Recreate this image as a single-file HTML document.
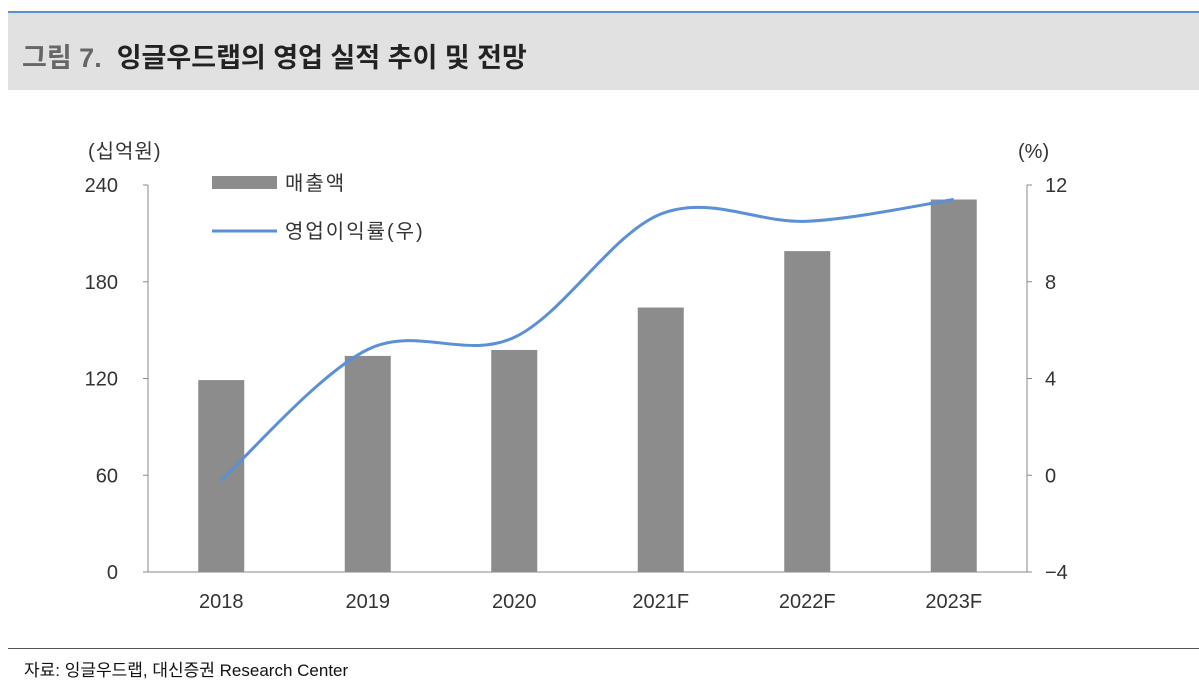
<!DOCTYPE html>
<html><head><meta charset="utf-8"><style>
body{margin:0;width:1199px;height:689px;background:#fff;font-family:"Liberation Sans","Noto Sans CJK KR",sans-serif;overflow:hidden;position:relative}
.hdr{position:absolute;left:8px;top:11px;width:1191px;height:77px;background:#e1e1e1;border-top:2px solid #5b8fd6}
.hdr span{position:absolute;left:14px;top:23px;font-size:27px;font-weight:bold;color:#222}
.src{position:absolute;left:24px;top:656px;font-size:17px;color:#111}
.foot{position:absolute;left:8px;top:648px;width:1191px;border-top:1px solid #555}
</style></head><body>
<div class="hdr"><span><span style="position:static;color:#666">그림 7.</span>&nbsp; 잉글우드랩의 영업 실적 추이 및 전망</span></div>
<svg id="c" width="1199" height="689" style="position:absolute;left:0;top:0"></svg>
<div class="foot"></div>
<div class="src">자료: 잉글우드랩, 대신증권 Research Center</div>
<script>
const categories=["2018","2019","2020","2021F","2022F","2023F"];
const revenue=[119,134,137.7,164,199,231];
const margin=[-0.2,5.2,5.7,10.8,10.5,11.4];
const leftTicks=[0,60,120,180,240];
const rightTicks=[-4,0,4,8,12];
const NS="http://www.w3.org/2000/svg";
const svg=document.getElementById('c');
const X0=148,X1=1027,YT=185,YB=572;
const step=(X1-X0)/categories.length;
const xc=i=>X0+step*(i+0.5);
const yl=v=>YB-(v/240)*(YB-YT);
const yr=v=>YB-((v+4)/16)*(YB-YT);
function mk(t,a,txt){const e=document.createElementNS(NS,t);for(const k in a)e.setAttribute(k,a[k]);if(txt!==undefined)e.textContent=txt;svg.appendChild(e);return e;}
let e;
e=mk('line',{x1:X0,y1:YT,x2:X0,y2:YB,stroke:'#888'});


e=mk('line',{x1:X1,y1:YT,x2:X1,y2:YB,stroke:'#888'});


e=mk('line',{x1:X0,y1:YB,x2:X1,y2:YB,stroke:'#888'});


leftTicks.forEach(v=>{mk('line',{x1:X0-5,y1:yl(v),x2:X0,y2:yl(v),stroke:'#888'});
e=mk('text',{x:118,y:yl(v)+7,'text-anchor':'end','font-size':20,fill:'#333'},v);

});
rightTicks.forEach(v=>{mk('line',{x1:X1,y1:yr(v),x2:X1+5,y2:yr(v),stroke:'#888'});
e=mk('text',{x:1045,y:yr(v)+7,'font-size':20,fill:'#333'},v<0?'\u2212'+(-v):v);

});
categories.forEach((c,i)=>{
e=mk('text',{x:xc(i),y:608,'text-anchor':'middle','font-size':20,fill:'#333'},c);


e=mk('rect',{x:xc(i)-23,y:yl(revenue[i]),width:46,height:YB-yl(revenue[i]),fill:'#8c8c8c'});

});
const pts=margin.map((v,i)=>[xc(i),yr(v)]);
let d='M'+pts[0][0]+','+pts[0][1];
for(let i=0;i<pts.length-1;i++){const p0=pts[Math.max(0,i-1)],p1=pts[i],p2=pts[i+1],p3=pts[Math.min(pts.length-1,i+2)];
d+=' C'+(p1[0]+(p2[0]-p0[0])/6)+','+(p1[1]+(p2[1]-p0[1])/6)+' '+(p2[0]-(p3[0]-p1[0])/6)+','+(p2[1]-(p3[1]-p1[1])/6)+' '+p2[0]+','+p2[1];}
e=mk('path',{d:d,fill:'none',stroke:'#5b8fd6','stroke-width':3});


e=mk('text',{x:88,y:158,'font-size':20,fill:'#333','letter-spacing':1},'(십억원)');


e=mk('text',{x:1018,y:158,'font-size':20,fill:'#333'},'(%)');


e=mk('rect',{x:212,y:176,width:65,height:13,fill:'#8c8c8c'});


e=mk('text',{x:285,y:190,'font-size':20,fill:'#333','letter-spacing':2},'매출액');


e=mk('line',{x1:212,y1:231,x2:277,y2:231,stroke:'#5b8fd6','stroke-width':3});


e=mk('text',{x:285,y:238,'font-size':20,fill:'#333','letter-spacing':2},'영업이익률(우)');


</script>
</body></html>
